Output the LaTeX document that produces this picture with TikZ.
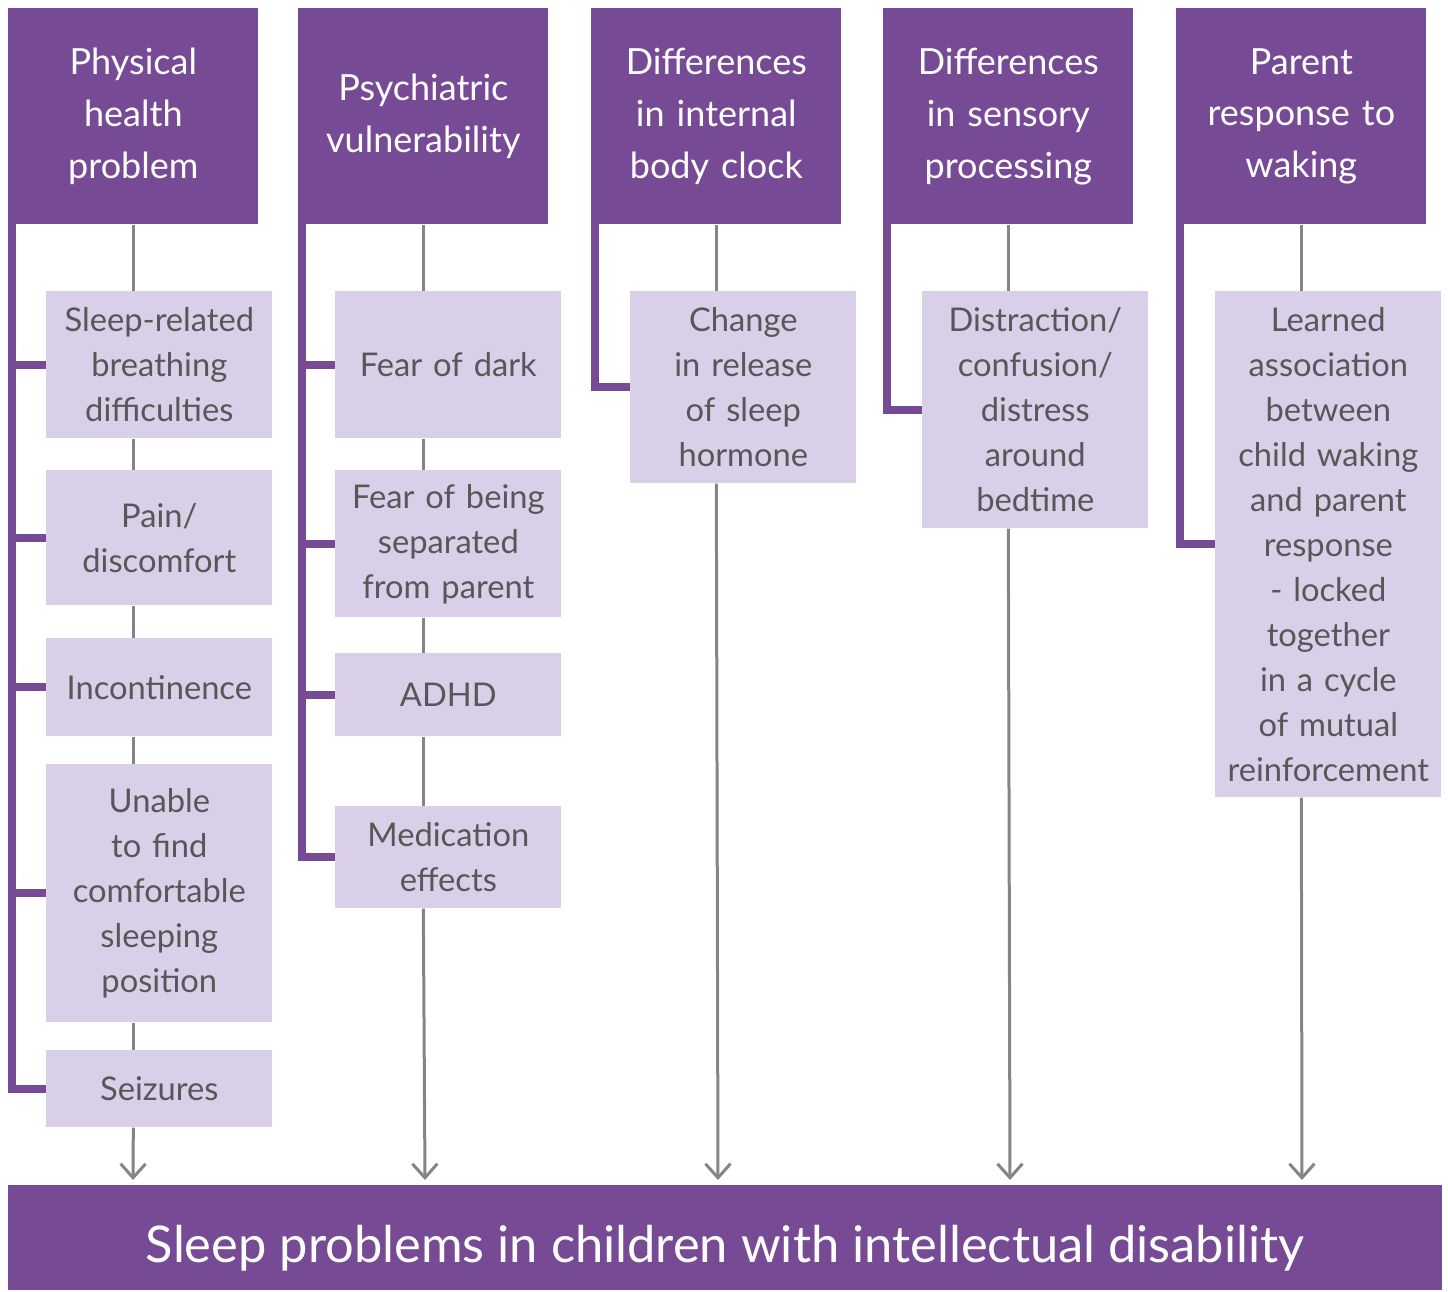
\documentclass[tikz,border=0pt]{standalone}
\usepackage{fontspec}
\setmainfont{Lato}
\usetikzlibrary{arrows.meta}
\definecolor{plum}{HTML}{774A96}
\definecolor{lilac}{HTML}{D9CFE8}
\definecolor{ink}{HTML}{575757}
\definecolor{wire}{HTML}{858585}
\begin{document}
\begin{tikzpicture}[x=0.02cm,y=-0.02cm,
    head/.style={fill=plum,text=white,anchor=north west,minimum width=5cm,minimum height=4.32cm,
      text width=4.8cm,align=center,inner sep=0pt,font=\fontsize{20.5}{29.5}\selectfont},
    cause/.style={fill=lilac,text=ink,anchor=north west,minimum width=4.52cm,text width=4.4cm,
      align=center,inner sep=0pt,font=\fontsize{18.6}{25.6}\selectfont},
    link/.style={draw=wire,line width=0.06cm},
    bar/.style={draw=plum,line width=0.16cm,line join=miter}]
  \useasboundingbox (0,0) rectangle (1448,1292);
  % headers
  \node[head] (h1) at (8,8) {Physical\\health\\problem};
  \node[head] (h2) at (298,8) {Psychiatric\\vulnerability};
  \node[head] (h3) at (591,8) {Differences\\in internal\\body clock};
  \node[head] (h4) at (883,8) {Differences\\in sensory\\processing};
  \node[head] (h5) at (1176,8) {Parent\\response to\\waking};
  % outcome
  \node[fill=plum,text=white,anchor=north west,minimum width=28.68cm,minimum height=2.1cm,inner sep=0pt,
    font=\fontsize{28.8}{34}\selectfont] (out) at (8,1185) {\smash{\raisebox{-0.5cm}{Sleep problems in children with intellectual disability}}};
  % physical health
  \node[cause,minimum height=2.94cm] (b11) at (46,291) {Sleep-related\\breathing\\difficulties};
  \node[cause,minimum height=2.7cm] (b12) at (46,470) {Pain/\\discomfort};
  \node[cause,minimum height=1.96cm] (b13) at (46,638) {Incontinence};
  \node[cause,minimum height=5.16cm] (b14) at (46,764) {Unable\\to find\\comfortable\\sleeping\\position};
  \node[cause,minimum height=1.54cm] (b15) at (46,1050) {Seizures};
  % psychiatric
  \node[cause,minimum height=2.94cm] (b21) at (335,291) {Fear of dark};
  \node[cause,minimum height=2.94cm] (b22) at (335,470) {Fear of being\\separated\\from parent};
  \node[cause,minimum height=1.66cm] (b23) at (335,653) {ADHD};
  \node[cause,minimum height=2.04cm] (b24) at (335,806) {Medication\\effects};
  % body clock, sensory, parent
  \node[cause,minimum height=3.84cm] (b31) at (630,291) {Change\\in release\\of sleep\\hormone};
  \node[cause,minimum height=4.74cm] (b41) at (922,291) {Distraction/\\confusion/\\distress\\around\\bedtime};
  \node[cause,minimum height=10.12cm] (b51) at (1215,291) {Learned\\association\\between\\child waking\\and parent\\response\\- locked\\together\\in a cycle\\of mutual\\reinforcement};
  % arrow ends
  \coordinate (e1) at (133,1180);
  \coordinate (e2) at (425,1180);
  \coordinate (e3) at (718,1180);
  \coordinate (e4) at (1010,1180);
  \coordinate (e5) at (1302,1180);
  % grey links
  \draw[link] (h1.south) -- (b11.north -| h1.south);
  \draw[link] (b11.south -| h1.south) -- (b12.north -| h1.south);
  \draw[link] (b12.south -| h1.south) -- (b13.north -| h1.south);
  \draw[link] (b13.south -| h1.south) -- (b14.north -| h1.south);
  \draw[link] (b14.south -| h1.south) -- (b15.north -| h1.south);
  \draw[link,-{Straight Barb[length=0.28cm,width=0.5cm]}] (b15.south -| h1.south) -- (e1);
  \draw[link] (h2.south) -- (b21.north -| h2.south);
  \draw[link] (b21.south -| h2.south) -- (b22.north -| h2.south);
  \draw[link] (b22.south -| h2.south) -- (b23.north -| h2.south);
  \draw[link] (b23.south -| h2.south) -- (b24.north -| h2.south);
  \draw[link,-{Straight Barb[length=0.28cm,width=0.5cm]}] (b24.south -| h2.south) -- (e2);
  \draw[link] (h3.south) -- (b31.north -| h3.south);
  \draw[link,-{Straight Barb[length=0.28cm,width=0.5cm]}] (b31.south -| h3.south) -- (e3);
  \draw[link] (h4.south) -- (b41.north -| h4.south);
  \draw[link,-{Straight Barb[length=0.28cm,width=0.5cm]}] (b41.south -| h4.south) -- (e4);
  \draw[link] (h5.south) -- (b51.north -| h5.south);
  \draw[link,-{Straight Barb[length=0.28cm,width=0.5cm]}] (b51.south -| h5.south) -- (e5);
  % purple bars
  \coordinate (v1) at (12,224);
  \coordinate (v2) at (302,224);
  \coordinate (v3) at (595,224);
  \coordinate (v4) at (887,224);
  \coordinate (v5) at (1180,224);
  \draw[bar] (v1) |- (b15.west);
  \draw[bar] (b11.west) -- (b11.west -| v1);
  \draw[bar] (b12.west) -- (b12.west -| v1);
  \draw[bar] (b13.west) -- (b13.west -| v1);
  \draw[bar] (b14.west) -- (b14.west -| v1);
  \draw[bar] (v2) |- (b24.west);
  \draw[bar] (b21.west) -- (b21.west -| v2);
  \draw[bar] (b22.west) -- (b22.west -| v2);
  \draw[bar] (b23.west) -- (b23.west -| v2);
  \draw[bar] (v3) |- (b31.west);
  \draw[bar] (v4) |- (b41.west);
  \draw[bar] (v5) |- (b51.west);
\end{tikzpicture}
\end{document}
